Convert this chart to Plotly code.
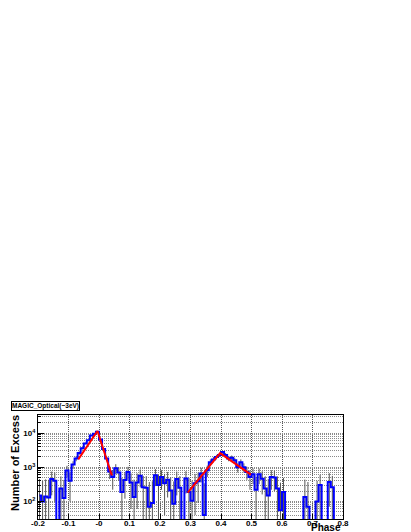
import plotly.graph_objects as go

# phase histogram, 100 bins of 0.01 from -0.2 to 0.8 (None = bin below the axis)
bin_low = -0.2
bin_width = 0.01
excess = [
    150, 100, 140, 130, 450, 400, None, 240, 125, 800,
    400, 1200, 1800, 2600, 3600, 5000, 6200, 8500, 9500, 11000,
    6500, 3400, 1800, 750, 520, 930, 700, 190, 420, 730,
    360, 135, 360, 560, 260, 250, 70, 90, 580, 300,
    520, 340, 430, 210, 85, 450, 250, None, 470, 190,
    105, 340, 390, 660, 40, 820, 1400, 1700, 2000, 2300,
    2800, 2300, 1800, 1900, 1600, 1000, 1400, 1000, 730, 520,
    620, 220, 620, 460, 240, 150, 520, 500, 240, 55,
    190, None, None, None, None, None, None, 135, 70, None,
    None, 100, 300, None, None, 370, 260, None, None, None,
]
excess_err = 300

# exponential fits to the two peaks
fit1_phase = [-0.068, -0.005, 0.042]
fit1_value = [1700, 11500, 580]
fit2_phase = [0.291, 0.397, 0.498]
fit2_value = [180, 2600, 610]

x_ticks = [-0.2, -0.1, 0.0, 0.1, 0.2, 0.3, 0.4, 0.5, 0.6, 0.7, 0.8]
x_labels = ["-0.2", "-0.1", "-0", "0.1", "0.2", "0.3", "0.4", "0.5", "0.6", "0.7", "0.8"]
y_ticks = [100, 1000, 10000]
y_labels = ["10<sup>2</sup>", "10<sup>3</sup>", "10<sup>4</sup>"]
minor_mantissas = [2, 3, 4, 5, 6, 7, 8, 9]
minor_decades = [10, 100, 1000, 10000]

y_log_range = [1.485, 4.53]
floor = 10 ** (y_log_range[0] - 0.5)

centers = [bin_low + bin_width * (i + 0.5) for i in range(len(excess))]
drawn = [v if v is not None else floor for v in excess]
minor_vals = [m * d for d in minor_decades for m in minor_mantissas]

fig = go.Figure()

# gray error bars drawn as vertical segments (lower end below the axis when negative)
ex, ey = [], []
for c, v in zip(centers, excess):
    if v is None:
        continue
    ex += [c, c, None]
    ey += [max(v - excess_err, floor), v + excess_err, None]
fig.add_trace(go.Scatter(
    x=ex, y=ey, mode="lines",
    line=dict(width=1, color="#555555"),
    connectgaps=False, showlegend=False, hoverinfo="skip",
))

# blue step histogram
fig.add_trace(go.Scatter(
    x=centers, y=drawn, mode="lines",
    line=dict(color="#0000ff", width=2, shape="hvh"),
    showlegend=False,
))

# red fits
for fx, fy in [(fit1_phase, fit1_value), (fit2_phase, fit2_value)]:
    fig.add_trace(go.Scatter(
        x=fx, y=fy, mode="lines",
        line=dict(color="#ff0000", width=2),
        showlegend=False,
    ))

tick_font = dict(family="Liberation Sans", size=8, color="black", weight="bold")

# the page body adds 8px around the figure, so the figure is 8px smaller each way
fig.update_layout(
    width=403, height=524,
    margin=dict(l=30, r=68, t=407, b=13),
    paper_bgcolor="white",
    plot_bgcolor="white",
    xaxis=dict(
        range=[-0.2, 0.8], automargin=False,
        tickmode="array", tickvals=x_ticks, ticktext=x_labels,
        tickfont=tick_font,
        ticks="inside", ticklen=5, tickcolor="black",
        showline=True, linecolor="black", linewidth=1, mirror=True,
        showgrid=True, gridcolor="#555555", griddash="1px,1px", gridwidth=1,
        zeroline=False,
        ticklabelstandoff=-4,
    ),
    yaxis=dict(
        type="log", range=y_log_range, automargin=False,
        tickmode="array", tickvals=y_ticks, ticktext=y_labels,
        tickfont=tick_font,
        ticks="inside", ticklen=6, tickcolor="black",
        showline=True, linecolor="black", linewidth=1, mirror=True,
        showgrid=True, gridcolor="#888888", griddash="1px,1px", gridwidth=1,
        zeroline=False,
        minor=dict(tickmode="array", tickvals=minor_vals,
                   ticks="inside", ticklen=3, tickcolor="black",
                   showgrid=True, gridcolor="#8a8a8a", griddash="1px,1px"),
    ),
    annotations=[
        dict(text="MAGIC_Optical(~3eV)", xref="paper", yref="paper",
             x=-0.088, y=1.087, xanchor="left", yanchor="middle", showarrow=False,
             font=dict(family="Liberation Sans", size=6.5, color="black", weight="bold"),
             bordercolor="black", borderwidth=1, borderpad=0, bgcolor="white"),
        dict(text="Number of Excess", xref="paper", yref="paper",
             x=-0.075, y=0.54, xanchor="center", yanchor="middle", textangle=-90,
             showarrow=False,
             font=dict(family="Liberation Sans", size=11, color="black", weight="bold")),
        dict(text="Phase", xref="paper", yref="paper",
             x=1.0, y=-0.083, xanchor="right", yanchor="middle", showarrow=False,
             font=dict(family="Liberation Sans", size=10, color="black", weight="bold")),
    ],
)

fig.write_html("out.html")
